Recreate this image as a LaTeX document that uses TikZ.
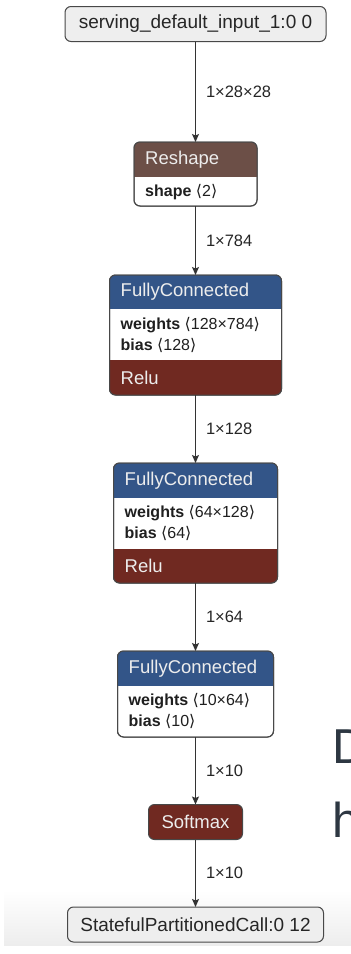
\documentclass[tikz,border=0pt]{standalone}
\usepackage{fontspec}
\setmainfont{Liberation Sans}
\newfontfamily\brk{DejaVu Sans}
\usetikzlibrary{arrows.meta}

\definecolor{shapebrown}{RGB}{108,79,71}
\definecolor{layerblue}{RGB}{51,85,136}
\definecolor{actred}{RGB}{112,41,33}
\definecolor{iogray}{RGB}{238,238,238}
\definecolor{boxline}{RGB}{72,72,72}
\definecolor{slate}{RGB}{45,55,66}

\newcommand{\dims}[1]{{\brk⟨}#1{\brk⟩}}

\begin{document}
\begin{tikzpicture}[x=1pt, y=-1pt,
	box/.style={draw=boxline, line width=1pt, rounded corners=6pt, outer sep=0pt, inner sep=0pt, fill=white},
	iobox/.style={box, fill=iogray, minimum height=35pt, font=\fontsize{19}{22}\selectfont, text=black!85},
	hdr/.style={anchor=west, inner sep=0pt, font=\fontsize{18.5}{21}\selectfont, text=white!93!black},
	attr/.style={anchor=base west, inner sep=0pt, font=\fontsize{16}{19}\selectfont, text=black!88},
	elabel/.style={midway, anchor=west, inner sep=0pt, xshift=10pt, font=\fontsize{16.5}{19}\selectfont, text=black!85},
	edge/.style={->, >={Stealth[length=8pt, width=7pt, inset=1.5pt]}, line width=1pt, draw=black!80}]
	\useasboundingbox (0,0) rectangle (351,954);
	\fill[white] (0,0) rectangle (351,954);
	\shade[top color=white, bottom color=black!7] (4,890) rectangle (351,945);

	% input and output
	\node[iobox, minimum width=261pt] (input) at (195.5,24) {serving\_default\_input\_1:0 0};
	\node[iobox, minimum width=256pt] (output) at (195.5,924.5) {StatefulPartitionedCall:0 12};

	% Reshape
	\node[box, minimum width=123pt, minimum height=64pt] (reshape) at (195.5,174) {};
	\begin{scope}
		\clip[rounded corners=6pt] (reshape.north west) rectangle (reshape.south east);
		\fill[shapebrown] (reshape.north west) rectangle ([yshift=-35pt]reshape.north east);
	\end{scope}
	\draw[boxline, line width=1pt, rounded corners=6pt] (reshape.north west) rectangle (reshape.south east);
	\node[hdr] (reshapetype) at ([xshift=11pt, yshift=-17.5pt]reshape.north west) {Reshape};
	\node[attr] (reshapeshape) at ([xshift=11pt, yshift=-54pt]reshape.north west) {\textbf{shape} \dims{2}};

	% FullyConnected 1
	\node[box, minimum width=172pt, minimum height=120pt] (fcA) at (195.5,335) {};
	\begin{scope}
		\clip[rounded corners=6pt] (fcA.north west) rectangle (fcA.south east);
		\fill[layerblue] (fcA.north west) rectangle ([yshift=-34pt]fcA.north east);
		\fill[actred] ([yshift=35pt]fcA.south west) rectangle (fcA.south east);
	\end{scope}
	\draw[boxline, line width=1pt, rounded corners=6pt] (fcA.north west) rectangle (fcA.south east);
	\node[hdr] (fcAtype) at ([xshift=11pt, yshift=-17pt]fcA.north west) {FullyConnected};
	\node[attr] (fcAweights) at ([xshift=11pt, yshift=-54pt]fcA.north west) {\textbf{weights} \dims{128×784}};
	\node[attr] (fcAbias) at ([xshift=11pt, yshift=-75pt]fcA.north west) {\textbf{bias} \dims{128}};
	\node[hdr] (fcArelu) at ([xshift=11pt, yshift=17.5pt]fcA.south west) {Relu};

	% FullyConnected 2
	\node[box, minimum width=164pt, minimum height=120pt] (fcB) at (195.5,523) {};
	\begin{scope}
		\clip[rounded corners=6pt] (fcB.north west) rectangle (fcB.south east);
		\fill[layerblue] (fcB.north west) rectangle ([yshift=-35pt]fcB.north east);
		\fill[actred] ([yshift=34pt]fcB.south west) rectangle (fcB.south east);
	\end{scope}
	\draw[boxline, line width=1pt, rounded corners=6pt] (fcB.north west) rectangle (fcB.south east);
	\node[hdr] (fcBtype) at ([xshift=11pt, yshift=-17.5pt]fcB.north west) {FullyConnected};
	\node[attr] (fcBweights) at ([xshift=11pt, yshift=-54pt]fcB.north west) {\textbf{weights} \dims{64×128}};
	\node[attr] (fcBbias) at ([xshift=11pt, yshift=-75pt]fcB.north west) {\textbf{bias} \dims{64}};
	\node[hdr] (fcBrelu) at ([xshift=11pt, yshift=17pt]fcB.south west) {Relu};

	% FullyConnected 3
	\node[box, minimum width=156pt, minimum height=86pt] (fcC) at (195.5,694) {};
	\begin{scope}
		\clip[rounded corners=6pt] (fcC.north west) rectangle (fcC.south east);
		\fill[layerblue] (fcC.north west) rectangle ([yshift=-35pt]fcC.north east);
	\end{scope}
	\draw[boxline, line width=1pt, rounded corners=6pt] (fcC.north west) rectangle (fcC.south east);
	\node[hdr] (fcCtype) at ([xshift=11pt, yshift=-17.5pt]fcC.north west) {FullyConnected};
	\node[attr] (fcCweights) at ([xshift=11pt, yshift=-54pt]fcC.north west) {\textbf{weights} \dims{10×64}};
	\node[attr] (fcCbias) at ([xshift=11pt, yshift=-75pt]fcC.north west) {\textbf{bias} \dims{10}};

	% Softmax
	\node[box, fill=actred, minimum width=94pt, minimum height=35pt, font=\fontsize{18.5}{21}\selectfont, text=white!93!black] (softmax) at (195.5,822) {Softmax};

	% edges
	\draw[edge] (input) -- node[elabel] {1×28×28} (reshape);
	\draw[edge] (reshape) -- node[elabel] {1×784} (fcA);
	\draw[edge] (fcA) -- node[elabel] {1×128} (fcB);
	\draw[edge] (fcB) -- node[elabel] {1×64} (fcC);
	\draw[edge] (fcC) -- node[elabel] {1×10} (softmax);
	\draw[edge] (softmax) -- node[elabel] {1×10} (output);

	% cut-off text at the right edge
	\begin{scope}
		\clip (0,0) rectangle (351,954);
		\node[anchor=base west, inner sep=0pt, font=\fontsize{49}{55}\selectfont, text=slate] (bigD) at (332,763) {D};
		\node[anchor=base west, inner sep=0pt, font=\fontsize{49}{55}\selectfont, text=slate] (bigh) at (332,837) {h};
	\end{scope}
\end{tikzpicture}
\end{document}
